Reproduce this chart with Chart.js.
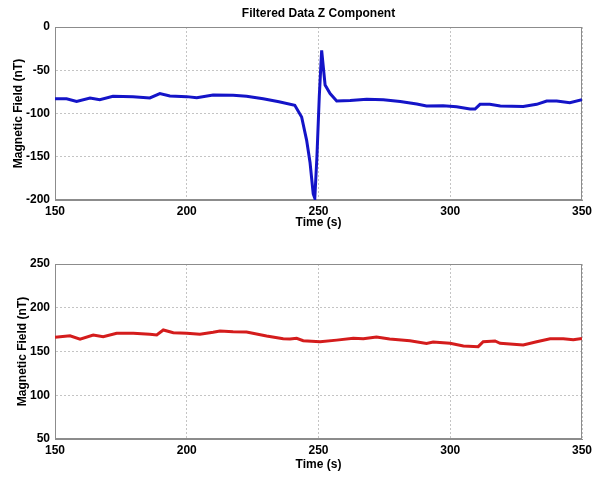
<!DOCTYPE html>
<html>
<head>
<meta charset="utf-8">
<script src="https://cdn.jsdelivr.net/npm/chart.js@4"></script>
<style>
  body { margin: 0; background: #fff; }
  #wrap { position: relative; width: 592px; height: 477px; }
  .box { position: absolute; left: 0; width: 592px; }
</style>
</head>
<body>
<div id="wrap">
  <div class="box" style="top:0;height:240px"><canvas id="chartZ"></canvas></div>
  <div class="box" style="top:240px;height:237px"><canvas id="chartB"></canvas></div>
</div>
<script>
// top panel: filtered Z component
var timeZ = [150, 154.4, 158.2, 163.3, 167, 172, 179.6, 186, 189.8, 193.6, 200, 203.8, 210, 217.6, 222.7, 229, 235, 241, 243.6, 245.5, 246.8, 248, 248.6, 249.4, 250.3, 251.2, 252.5, 254.4, 256.9, 262, 268.3, 274.6, 281, 287.3, 291, 297.3, 302.4, 307.5, 309.4, 311.3, 315, 319, 327.7, 332.8, 336.6, 340.4, 345.4, 350];
var fieldZ = [-83, -83, -86, -82, -84, -80, -80.5, -82, -77, -79.8, -80.5, -81.8, -78.6, -79, -80, -83, -86.5, -90.5, -104, -131, -157, -193, -198, -150, -80, -27, -67, -77, -85.5, -85, -83.6, -84.2, -86.1, -89, -91.3, -91, -92.1, -94.8, -94.8, -89.4, -89.4, -91.3, -92, -89.4, -85.5, -85.5, -87.5, -84];

// bottom panel
var timeB = [150, 155.7, 159.5, 164.5, 168.3, 173.4, 179.7, 186, 188.6, 191.1, 194.9, 200, 205, 210, 212.6, 217.6, 222.7, 230.3, 236.6, 239.2, 241.7, 244.2, 250.6, 256.9, 263.2, 267, 272, 277, 284.7, 291, 293.5, 299.9, 305, 310.6, 312.5, 317, 318.9, 327.7, 332.8, 337.9, 342.9, 346.7, 350];
var fieldB = [166.2, 168, 164, 168.9, 167, 170.8, 170.8, 169.6, 169, 174.6, 171.5, 170.8, 169.6, 171.9, 173.4, 172.6, 172.2, 167.7, 164.6, 164.3, 165, 162.4, 161.2, 163, 165, 164.6, 166.6, 164.3, 162.4, 159.3, 160.8, 159.3, 156.3, 155.5, 161.2, 162, 159.3, 157.4, 161.2, 164.6, 164.6, 163.5, 165];

var timeTicks = [150, 200, 250, 300, 350];
var ticksZ = [0, -50, -100, -150, -200];
var ticksB = [250, 200, 150, 100, 50];

var FONT = { family: "'Liberation Sans', Arial, Helvetica, sans-serif", size: 12, weight: 'bold' };

function points(xs, ys) {
    var out = [];
    for (var i = 0; i < xs.length; i++) {
        out.push({ x: xs[i], y: ys[i] });
    }
    return out;
}

function makeChart(id, xs, ys, color, yMin, yMax, yTicks, opts) {
    var ctx = document.getElementById(id).getContext('2d');
    return new Chart(ctx, {
        type: 'line',
        data: {
            datasets: [{
                data: points(xs, ys),
                borderColor: color,
                borderWidth: 3,
                pointRadius: 0,
                tension: 0,
                fill: false
            }]
        },
        options: {
            responsive: true,
            maintainAspectRatio: false,
            animation: false,
            layout: { padding: { left: 0, right: 10, top: opts.padTop, bottom: 0 } },
            plugins: {
                legend: { display: false },
                tooltip: { enabled: false },
                title: {
                    display: !!opts.title,
                    text: opts.title,
                    font: FONT,
                    color: '#000',
                    fullSize: false,
                    padding: { top: 6, bottom: 6.6 }
                }
            },
            scales: {
                x: {
                    type: 'linear',
                    min: 150,
                    max: 350,
                    afterBuildTicks: function (scale) {
                        scale.ticks = timeTicks.map(function (v) { return { value: v }; });
                    },
                    afterFit: function (scale) {
                        scale.height = opts.xHeight;
                        scale.paddingLeft = 0;
                        scale.paddingRight = 0;
                    },
                    grid: { color: '#c4c4c4', drawTicks: false },
                    border: { display: true, color: '#8c8c8c', width: 1, dash: [2, 2] },
                    ticks: { font: FONT, color: '#000', padding: 4, maxRotation: 0 },
                    title: {
                        display: true,
                        text: 'Time (s)',
                        font: FONT,
                        color: '#000',
                        padding: { top: 0, bottom: opts.xTitlePad }
                    }
                },
                y: {
                    min: yMin,
                    max: yMax,
                    afterBuildTicks: function (scale) {
                        scale.ticks = yTicks.map(function (v) { return { value: v }; });
                    },
                    afterFit: function (scale) { scale.width = 55; },
                    grid: { color: '#c4c4c4', drawTicks: false },
                    border: { display: true, color: '#8c8c8c', width: 1, dash: [2, 2] },
                    ticks: { font: FONT, color: '#000', padding: 5 },
                    title: {
                        display: true,
                        text: 'Magnetic Field (nT)',
                        font: FONT,
                        color: '#000',
                        padding: { top: opts.yTitlePad, bottom: 0 }
                    }
                }
            }
        },
        plugins: [{
            // solid gray frame round the plot area
            id: 'frame',
            beforeDatasetsDraw: function (chart) {
                var a = chart.chartArea;
                var c = chart.ctx;
                c.save();
                c.strokeStyle = '#8c8c8c';
                c.lineWidth = 1;
                c.setLineDash([]);
                c.strokeRect(a.left + 0.5, a.top + 0.5, a.right - a.left - 1, a.bottom - a.top - 1);
                c.restore();
            }
        }]
    });
}

var chartZ = makeChart('chartZ', timeZ, fieldZ, '#1414c8', -200, 0, ticksZ, {
    title: 'Filtered Data Z Component', padTop: 0, xHeight: 40, xTitlePad: 10.4, yTitlePad: 11.4
});
var chartB = makeChart('chartB', timeB, fieldB, '#d41c1c', 50, 250, ticksB, {
    title: '', padTop: 24, xHeight: 38, xTitlePad: 5, yTitlePad: 15
});
</script>
</body>
</html>
